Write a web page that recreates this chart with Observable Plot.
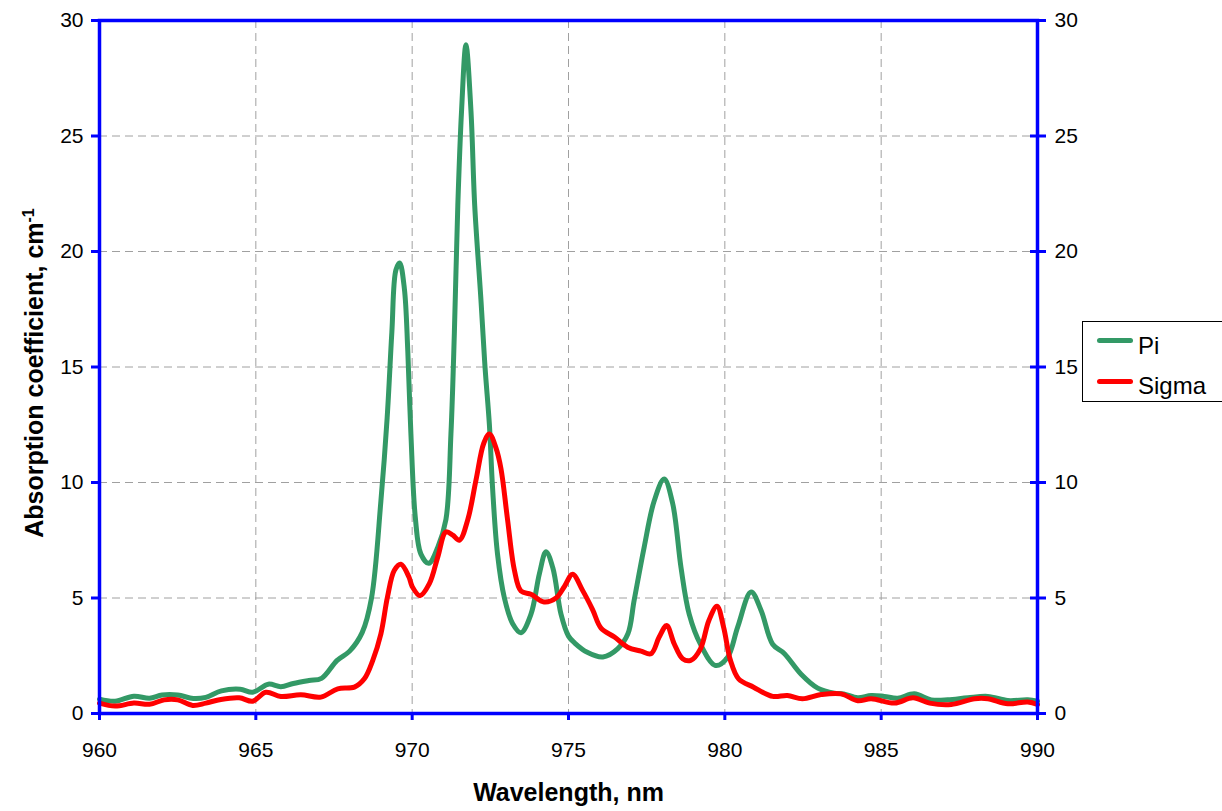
<!DOCTYPE html>
<html>
<head>
<meta charset="utf-8">
<script src="https://cdn.jsdelivr.net/npm/d3@7"></script>
<script src="https://cdn.jsdelivr.net/npm/@observablehq/plot@0.6"></script>
<style>
  html, body { margin: 0; padding: 0; background: #fff; overflow: hidden; }
  #wrap { position: relative; width: 1222px; height: 811px; overflow: hidden; }
  #legend { position: absolute; left: 1082px; top: 321px; width: 200px; height: 81px;
    border: 1px solid #000; background: #fff; box-sizing: border-box;
    font-family: "Liberation Sans", Arial, sans-serif; font-size: 24px; color: #000; }
  .li { position: absolute; left: 14px; height: 5px; width: 36px; border-radius: 3px; }
  .lt { position: absolute; left: 55px; line-height: 1; }
</style>
</head>
<body>
<div id="wrap">
  <div id="chart"></div>
  <div id="legend">
    <div class="li" style="top:16px;background:#339966"></div><div class="lt" style="top:12px">Pi</div>
    <div class="li" style="top:57px;background:#ff0000"></div><div class="lt" style="top:52px">Sigma</div>
  </div>
</div>
<script>
const xTicks = [960, 965, 970, 975, 980, 985, 990];
const yTicks = [0, 5, 10, 15, 20, 25, 30];

const piWavelength = [960.0, 960.5, 961.1, 961.6, 962.0, 962.5, 963.0, 963.4, 963.9, 964.5, 964.9, 965.4, 965.8, 966.2, 966.7, 967.1, 967.6, 968.0, 968.4, 968.7, 969.0, 969.2, 969.35, 969.48, 969.6, 969.75, 969.86, 969.96, 970.1, 970.28, 970.53, 970.82, 971.08, 971.24, 971.35, 971.46, 971.58, 971.72, 971.88, 972.0, 972.2, 972.33, 972.47, 972.57, 972.73, 972.95, 973.21, 973.48, 973.8, 974.07, 974.28, 974.5, 974.76, 975.0, 975.2, 975.6, 976.1, 976.57, 976.9, 977.1, 977.42, 977.74, 978.06, 978.33, 978.6, 978.86, 979.22, 979.7, 980.09, 980.41, 980.84, 981.16, 981.53, 981.9, 982.44, 982.97, 983.5, 983.8, 984.25, 984.68, 985.1, 985.53, 986.06, 986.6, 987.13, 987.77, 988.41, 989.05, 989.69, 990.0];
const piValue = [0.62, 0.53, 0.75, 0.66, 0.80, 0.80, 0.65, 0.70, 0.98, 1.05, 0.92, 1.27, 1.16, 1.30, 1.43, 1.52, 2.30, 2.70, 3.50, 5.0, 9.2, 12.8, 16.5, 19.2, 19.5, 18.4, 15.7, 12.1, 8.5, 6.9, 6.5, 7.2, 8.4, 12.1, 16.5, 22.0, 26.1, 28.95, 26.1, 22.0, 17.9, 15.0, 12.5, 9.8, 6.9, 5.0, 3.9, 3.5, 4.3, 6.06, 7.0, 6.3, 4.3, 3.35, 3.05, 2.65, 2.45, 2.8, 3.45, 4.9, 7.2, 9.2, 10.15, 9.1, 6.3, 4.3, 3.0, 2.08, 2.44, 3.74, 5.26, 4.46, 3.0, 2.6, 1.7, 1.1, 0.88, 0.85, 0.68, 0.78, 0.74, 0.66, 0.85, 0.59, 0.59, 0.68, 0.74, 0.56, 0.59, 0.53];

const sigmaWavelength = [960.0, 960.5, 961.1, 961.6, 962.07, 962.5, 962.98, 963.4, 963.88, 964.47, 964.9, 965.32, 965.8, 966.44, 967.08, 967.62, 968.15, 968.47, 968.74, 969.0, 969.21, 969.43, 969.64, 969.9, 970.0, 970.25, 970.55, 970.82, 971.08, 971.3, 971.51, 971.78, 972.04, 972.29, 972.47, 972.68, 972.84, 973.05, 973.27, 973.48, 973.8, 974.22, 974.6, 974.87, 975.13, 975.45, 975.77, 976.04, 976.47, 976.89, 977.32, 977.64, 977.9, 978.14, 978.38, 978.65, 978.91, 979.22, 979.49, 979.75, 979.96, 980.18, 980.44, 980.92, 981.53, 982.0, 982.48, 983.08, 983.72, 984.25, 984.68, 985.43, 986.02, 986.55, 987.24, 987.99, 988.41, 989.05, 989.69, 990.0];
const sigmaValue = [0.45, 0.32, 0.45, 0.40, 0.59, 0.59, 0.35, 0.45, 0.61, 0.68, 0.53, 0.92, 0.74, 0.81, 0.71, 1.07, 1.14, 1.5, 2.3, 3.45, 5.04, 6.2, 6.46, 5.9, 5.5, 5.1, 5.62, 6.78, 7.86, 7.72, 7.5, 8.4, 10.1, 11.7, 12.1, 11.5, 10.6, 8.4, 6.2, 5.3, 5.16, 4.83, 5.0, 5.5, 6.03, 5.33, 4.5, 3.7, 3.31, 2.87, 2.7, 2.59, 3.31, 3.81, 3.02, 2.37, 2.3, 2.8, 4.03, 4.64, 3.74, 2.3, 1.5, 1.14, 0.74, 0.78, 0.64, 0.82, 0.85, 0.55, 0.64, 0.45, 0.68, 0.45, 0.39, 0.64, 0.64, 0.42, 0.5, 0.39];

const pi = piWavelength.map((x, i) => ({x, y: piValue[i]}));
const sigma = sigmaWavelength.map((x, i) => ({x, y: sigmaValue[i]}));

const chart = Plot.plot({
  width: 1222,
  height: 811,
  marginLeft: 99,
  marginRight: 185,
  marginTop: 20,
  marginBottom: 98,
  style: {fontFamily: "'Liberation Sans', Arial, sans-serif", fontSize: "21px", background: "#fff", color: "#000"},
  x: {domain: [960, 990]},
  y: {domain: [0, 30]},
  marks: [
    Plot.gridX(xTicks, {stroke: "#a0a0a0", strokeOpacity: 1, strokeDasharray: "8,5"}),
    Plot.gridY(yTicks, {stroke: "#a0a0a0", strokeOpacity: 1, strokeDasharray: "8,5"}),
    Plot.line(pi, {x: "x", y: "y", stroke: "#339966", strokeWidth: 5, curve: "catmull-rom"}),
    Plot.line(sigma, {x: "x", y: "y", stroke: "#ff0000", strokeWidth: 5, curve: "catmull-rom"}),
    Plot.frame({stroke: "#0000ff", strokeWidth: 3.5}),
    Plot.axisX(xTicks, {anchor: "bottom", tickSize: 7, tickPadding: 22, stroke: "#0000ff", strokeWidth: 3, fill: "#000", label: null}),
    Plot.axisY(yTicks, {anchor: "left", tickSize: 8, tickPadding: 8, stroke: "#0000ff", strokeWidth: 3, fill: "#000", label: null}),
    Plot.axisY(yTicks, {anchor: "right", tickSize: 16, dx: -8, tickPadding: 9, stroke: "#0000ff", strokeWidth: 3, fill: "#000", label: null}),
    Plot.text(["Wavelength, nm"], {frameAnchor: "bottom", dy: 87, fontSize: 25, fontWeight: "bold", fill: "#000"}),
    Plot.text(["Absorption coefficient, cm"], {frameAnchor: "left", textAnchor: "middle", dx: -65, dy: 6, rotate: -90, fontSize: 25, fontWeight: "bold", fill: "#000"})
  ]
});
document.getElementById("chart").appendChild(chart);

// superscript -1 on the y title
const yt = d3.select(chart).selectAll("text").filter(function() { return this.textContent === "Absorption coefficient, cm"; });
yt.append("tspan").attr("dy", "-0.55em").attr("font-size", "16px").text("-1");
</script>
</body>
</html>
